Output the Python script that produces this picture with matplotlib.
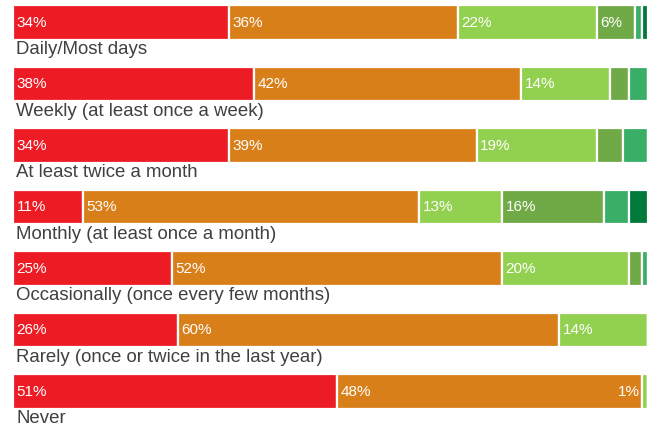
import matplotlib.pyplot as plt

plt.rcParams["font.family"] = ["Liberation Sans", "DejaVu Sans"]

categories = [
    "Daily/Most days",
    "Weekly (at least once a week)",
    "At least twice a month",
    "Monthly (at least once a month)",
    "Occasionally (once every few months)",
    "Rarely (once or twice in the last year)",
    "Never",
]

# shares per response segment (%), left to right
seg1 = [34, 38, 34, 11, 25, 26, 51]
seg2 = [36, 42, 39, 53, 52, 60, 48]
seg3 = [22, 14, 19, 13, 20, 14, 1]
seg4 = [6, 3, 4, 16, 2, 0, 0]
seg5 = [1, 3, 4, 4, 1, 0, 0]
seg6 = [1, 0, 0, 3, 0, 0, 0]

series = [seg1, seg2, seg3, seg4, seg5, seg6]
colors = ["#ED1C24", "#D97F1A", "#92D050", "#70AA46", "#38AE67", "#007A3A"]

fig = plt.figure(figsize=(6.5, 4.28), dpi=100)
ax = fig.add_axes([13 / 650, 0, 635 / 650, 1])

rows = range(len(categories))
left = [0] * len(categories)
for k, (vals, col) in enumerate(zip(series, colors)):
    ax.barh(rows, vals, left=left, height=0.56, color=col,
            edgecolor="white", linewidth=1.6)
    for i, v in enumerate(vals):
        if v <= 0:
            continue
        if k < 3 or v >= 5:
            if left[i] + v > 97 and v < 5:
                ax.text(left[i] - 0.3, i, f"{v}%", color="white",
                        fontsize=11, va="center", ha="left" if False else "right")
            else:
                ax.text(left[i] + 0.55, i, f"{v}%", color="white",
                        fontsize=11, va="center", ha="left")
    left = [a + b for a, b in zip(left, vals)]

for i, name in enumerate(categories):
    ax.text(0.55, i + 0.44, name, color="#404040", fontsize=13.4,
            va="center", ha="left", clip_on=False)

ax.set_xlim(0, 100)
ax.set_ylim(6.593, -0.366)
ax.axis("off")

plt.savefig("out.png", dpi=100)
